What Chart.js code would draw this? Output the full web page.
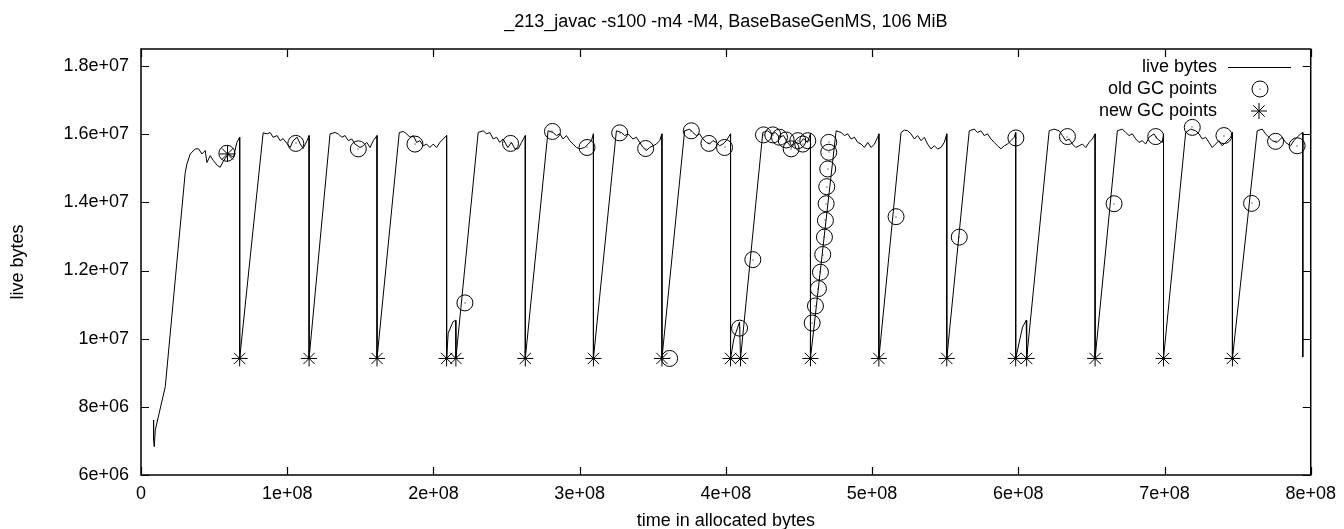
<!DOCTYPE html>
<html><head><meta charset="utf-8">
<script src="https://cdn.jsdelivr.net/npm/chart.js@4/dist/chart.umd.min.js"></script>
<style>html,body{margin:0;padding:0;background:#fff}canvas{display:block}</style>
</head><body>
<canvas id="c" width="1344" height="529"></canvas>
<script>
// All series values below are in units of 1e6 bytes
const UNIT = 1e6;

const liveX = [
  8.61, 8.61, 9.08, 9.77, 16.60, 30.26, 31.42, 33.68, 37.09, 39.34, 41.67, 43.92, 45.08, 47.34, 49.59, 52.32, 54.17, 56.42, 59.84, 63.25, 65.57, 67.49, 67.49,
  83.54, 86.27, 88.32, 90.37, 93.10, 95.15, 97.20, 99.93, 101.98, 104.03, 106.76, 108.81, 110.86, 113.59, 114.96, 114.96,
  129.30, 132.72, 134.97, 137.30, 139.55, 141.80, 144.13, 146.38, 149.80, 152.05, 154.37, 156.63, 158.88, 161.41, 161.41,
  176.64, 179.37, 181.69, 183.95, 186.20, 188.52, 190.77, 193.03, 195.35, 197.60, 199.86, 202.18, 204.43, 206.69, 209.02, 209.02,
  210.1, 213.3, 215.2, 215.37,
  230.60, 234.02, 236.34, 238.59, 240.85, 243.17, 245.42, 247.68, 250.89, 253.42, 255.67, 257.92, 260.25, 262.84, 262.84,
  278.42, 281.83, 284.15, 286.41, 288.66, 290.98, 293.24, 295.49, 297.81, 300.07, 303.48, 305.74, 308.06, 309.43, 309.43,
  325.14, 328.55, 330.81, 333.06, 336.47, 338.80, 341.05, 343.31, 345.63, 347.88, 350.14, 352.46, 354.71, 356.28, 356.28,
  371.79, 375.21, 377.46, 379.78, 382.04, 384.29, 386.61, 388.87, 391.12, 393.44, 395.70, 397.95, 400.28, 403.21, 403.21,
  405.5, 409.36, 410.04,
  425.27, 428.48, 431.21, 433.94, 436.68, 439.41, 442.14, 444.87, 447.60, 450.34, 453.07, 455.80, 457.86, 457.86,
  475.41, 478.83, 481.08, 483.33, 485.66, 487.91, 490.17, 492.49, 494.74, 497.00, 499.32, 501.57, 503.83, 504.65, 504.65,
  519.81, 522.06, 524.32, 526.64, 528.89, 531.15, 533.47, 535.72, 537.98, 540.30, 542.55, 544.81, 547.13, 549.38, 551.09, 551.09,
  566.46, 569.88, 572.13, 574.45, 576.71, 578.96, 581.28, 583.54, 585.79, 588.11, 590.37, 592.62, 594.94, 597.20, 598.22, 598.22,
  602.9, 605.4, 605.74,
  621.11, 624.53, 627.94, 630.20, 632.52, 634.77, 637.03, 639.35, 641.60, 643.86, 646.18, 648.43, 650.69, 652.53, 652.53,
  667.76, 671.18, 673.50, 675.76, 678.01, 680.33, 682.59, 684.84, 687.16, 689.42, 692.83, 695.08, 698.50, 699.32, 699.32,
  714.48, 717.90, 721.31, 723.56, 725.82, 728.14, 730.39, 732.65, 734.97, 737.22, 739.48, 741.80, 745.22, 746.45, 746.45,
  763.39, 766.80, 769.12, 771.38, 773.63, 777.05, 780.46, 782.78, 786.20, 788.45, 790.71, 793.03, 794.60, 794.60
];
const liveY = [
  7.61, 7.02, 6.83, 7.32, 8.59, 14.88, 15.13, 15.42, 15.57, 15.57, 15.42, 15.52, 15.17, 15.37, 15.22, 15.08, 15.03, 15.22, 15.42, 15.32, 15.76, 15.91, 9.42,
  16.04, 16.01, 16.05, 15.91, 15.96, 15.81, 15.87, 15.72, 15.61, 15.81, 15.91, 15.72, 15.58, 15.81, 15.96, 9.42,
  16.01, 16.05, 16.01, 15.91, 15.96, 15.81, 15.86, 15.71, 15.61, 15.66, 15.76, 15.61, 15.81, 15.96, 9.42,
  16.05, 16.08, 16.01, 15.91, 15.96, 15.76, 15.81, 15.66, 15.71, 15.61, 15.71, 15.61, 15.76, 15.86, 15.96, 9.42,
  10.16, 10.49, 10.54, 9.42,
  16.05, 16.10, 16.01, 16.05, 15.86, 15.91, 15.76, 15.86, 15.61, 15.76, 15.57, 15.57, 15.76, 15.96, 9.42,
  16.10, 16.05, 15.96, 16.01, 15.86, 15.96, 15.81, 15.71, 15.61, 15.57, 15.61, 15.71, 15.81, 16.01, 9.42,
  16.10, 16.05, 15.96, 16.01, 15.86, 15.91, 15.76, 15.61, 15.52, 15.61, 15.66, 15.71, 15.81, 16.01, 9.42,
  16.10, 16.15, 16.05, 15.96, 16.01, 15.86, 15.76, 15.71, 15.81, 15.76, 15.66, 15.71, 15.81, 16.01, 9.42,
  10.00, 10.49, 9.42,
  16.05, 16.10, 16.01, 16.05, 15.91, 15.96, 15.76, 15.61, 15.76, 15.72, 15.87, 15.76, 16.01, 9.42,
  16.10, 16.05, 15.96, 16.01, 15.86, 15.91, 15.76, 15.71, 15.61, 15.76, 15.61, 15.71, 15.91, 16.01, 9.42,
  16.05, 16.12, 16.10, 16.01, 15.86, 15.96, 15.81, 15.91, 15.71, 15.57, 15.66, 15.57, 15.61, 15.76, 16.01, 9.42,
  16.10, 16.15, 16.05, 16.10, 15.96, 16.01, 15.86, 15.76, 15.66, 15.57, 15.66, 15.71, 15.81, 15.91, 16.05, 9.42,
  10.34, 10.54, 9.42,
  16.10, 16.15, 16.10, 15.96, 15.81, 15.86, 15.71, 15.61, 15.66, 15.71, 15.61, 15.76, 15.86, 16.01, 9.42,
  16.10, 16.15, 16.05, 15.96, 16.01, 15.86, 15.76, 15.81, 15.71, 15.91, 16.01, 15.86, 15.76, 16.01, 9.42,
  16.05, 16.15, 16.10, 16.01, 15.86, 15.91, 15.76, 15.61, 15.71, 15.81, 15.66, 15.76, 15.91, 16.05, 9.42,
  16.10, 16.15, 16.01, 15.91, 15.81, 15.76, 15.91, 15.76, 15.66, 15.81, 15.91, 16.01, 16.05, 9.46
];

const oldGcX = [58.74, 105.87, 148.63, 187.36, 221.52, 252.73, 281.42, 305.05, 327.39, 345.15, 361.54,
  376.37, 388.39, 399.11, 409.36, 418.44, 425.75, 432.10, 436.68, 441.26, 444.67, 449.18, 452.60, 456.01,
  459.02, 461.27, 463.32, 464.69, 466.26, 467.42, 468.10, 468.58, 468.99, 469.67, 470.36, 470.36,
  516.39, 559.63, 598.36, 633.61, 665.51, 693.99, 718.99, 740.64, 759.56, 775.96, 790.71];
const oldGcY = [15.44, 15.73, 15.57, 15.71, 11.05, 15.73, 16.08, 15.61, 16.04, 15.58, 9.42,
  16.10, 15.73, 15.61, 10.31, 12.32, 15.98, 15.98, 15.91, 15.83, 15.57, 15.81, 15.71, 15.81,
  10.46, 10.96, 11.47, 11.95, 12.47, 12.98, 13.47, 13.96, 14.46, 14.98, 15.47, 15.76,
  13.58, 12.98, 15.89, 15.93, 13.96, 15.93, 16.20, 15.96, 13.97, 15.79, 15.66];

const newGcX = [59.15, 67.49, 114.96, 161.41, 209.02, 215.37, 262.84, 309.43, 356.28, 403.21, 410.04,
  457.86, 504.65, 551.09, 598.22, 605.74, 652.53, 699.32, 746.45];
const newGcY = [15.42, 9.42, 9.42, 9.42, 9.42, 9.42, 9.42, 9.42, 9.42, 9.42, 9.42,
  9.42, 9.42, 9.42, 9.42, 9.42, 9.42, 9.42, 9.42];

const xTicks = [0, 1e8, 2e8, 3e8, 4e8, 5e8, 6e8, 7e8, 8e8];
const yTicks = [6e6, 8e6, 1e7, 1.2e7, 1.4e7, 1.6e7, 1.8e7];

const TITLE = '_213_javac -s100 -m4 -M4, BaseBaseGenMS, 106 MiB';
const X_LABEL = 'time in allocated bytes';
const Y_LABEL = 'live bytes';
const SERIES_NAMES = ['live bytes', 'old GC points', 'new GC points'];

const FONT_FAMILY = '"Liberation Sans", Arial, Helvetica, sans-serif';
const FONT_SIZE = 18;
const FONT = FONT_SIZE + 'px ' + FONT_FAMILY;

function gfmt(v) {
  if (v === 0) return '0';
  const e = Math.floor(Math.log10(Math.abs(v)) + 1e-9);
  const m = v / Math.pow(10, e);
  const ms = parseFloat(m.toPrecision(6)).toString();
  return ms + 'e' + (e < 0 ? '-' : '+') + String(Math.abs(e)).padStart(2, '0');
}

function pts(xs, ys) { return xs.map((x, i) => ({x: x * UNIT, y: ys[i] * UNIT})); }

// small centre dot of the gnuplot circle marker, placed at the library's element positions
const circleDotPlugin = {
  id: 'circleDot',
  afterDatasetsDraw(chart) {
    const meta = chart.getDatasetMeta(1);
    const ctx = chart.ctx;
    ctx.save();
    ctx.fillStyle = '#000';
    meta.data.forEach(el => { ctx.fillRect(Math.round(el.x) - 0.5, Math.round(el.y) - 0.5, 1, 1); });
    ctx.restore();
  }
};

const framePlugin = {
  id: 'frame',
  afterDraw(chart) {
    const ctx = chart.ctx;
    const a = chart.chartArea;
    const xs = chart.scales.x, ys = chart.scales.y;
    ctx.save();
    ctx.strokeStyle = '#000';
    ctx.lineWidth = 1.2;
    const TL = 8;
    ctx.beginPath();
    xTicks.forEach(v => {
      const px = Math.round(xs.getPixelForValue(v)) + 0.5;
      ctx.moveTo(px, a.bottom); ctx.lineTo(px, a.bottom - TL);
      ctx.moveTo(px, a.top); ctx.lineTo(px, a.top + TL);
    });
    yTicks.forEach(v => {
      const py = Math.round(ys.getPixelForValue(v)) + 0.5;
      ctx.moveTo(a.left, py); ctx.lineTo(a.left + TL, py);
      ctx.moveTo(a.right, py); ctx.lineTo(a.right - TL, py);
    });
    ctx.stroke();
    ctx.lineWidth = 1.5;
    ctx.strokeRect(a.left, a.top, a.right - a.left, a.bottom - a.top);
    ctx.fillStyle = '#000';
    ctx.font = FONT;
    ctx.textAlign = 'center';
    ctx.textBaseline = 'middle';
    const cx = (a.left + a.right) / 2;
    ctx.fillText(TITLE, cx, 22);
    ctx.fillText(X_LABEL, cx, 521);
    ctx.save();
    ctx.translate(18, (a.top + a.bottom) / 2);
    ctx.rotate(-Math.PI / 2);
    ctx.fillText(Y_LABEL, 0, 0);
    ctx.restore();
    // legend
    const rows = [67, 89, 111];
    ctx.textAlign = 'right';
    SERIES_NAMES.forEach((n, i) => ctx.fillText(n, 1217, rows[i]));
    ctx.lineWidth = 1;
    ctx.beginPath();
    ctx.moveTo(1228, rows[0] + 0.5); ctx.lineTo(1291, rows[0] + 0.5);
    ctx.stroke();
    ctx.beginPath();
    ctx.arc(1260, rows[1], 8, 0, Math.PI * 2);
    ctx.stroke();
    ctx.fillRect(1259.5, rows[1] - 0.5, 1, 1);
    const r = 8, sx = 1259, sy = rows[2];
    ctx.beginPath();
    ctx.moveTo(sx - r, sy); ctx.lineTo(sx + r, sy);
    ctx.moveTo(sx, sy - r); ctx.lineTo(sx, sy + r);
    const d = r * Math.SQRT1_2;
    ctx.moveTo(sx - d, sy - d); ctx.lineTo(sx + d, sy + d);
    ctx.moveTo(sx - d, sy + d); ctx.lineTo(sx + d, sy - d);
    ctx.stroke();
    ctx.restore();
  }
};

new Chart(document.getElementById('c'), {
  type: 'scatter',
  data: {
    datasets: [
      {label: SERIES_NAMES[0], data: pts(liveX, liveY), showLine: true, borderColor: '#000', borderWidth: 1,
       pointRadius: 0, pointHoverRadius: 0, tension: 0, order: 3},
      {label: SERIES_NAMES[1], data: pts(oldGcX, oldGcY), showLine: false, pointStyle: 'circle',
       pointRadius: 8, borderColor: '#000', borderWidth: 1, backgroundColor: 'rgba(0,0,0,0)', order: 2},
      {label: SERIES_NAMES[2], data: pts(newGcX, newGcY), showLine: false, pointStyle: 'star',
       pointRadius: 8, borderColor: '#000', borderWidth: 1, backgroundColor: 'rgba(0,0,0,0)', order: 1}
    ]
  },
  options: {
    responsive: false,
    animation: false,
    devicePixelRatio: 1,
    layout: {padding: {top: 49, right: 32, left: 0, bottom: 0}},
    plugins: {legend: {display: false}, title: {display: false}, tooltip: {enabled: false}},
    scales: {
      x: {
        type: 'linear', min: 0, max: 8e8,
        afterBuildTicks: s => { s.ticks = xTicks.map(v => ({value: v})); },
        afterFit: s => { s.height = 54; },
        ticks: {callback: v => gfmt(v), color: '#000', font: {family: FONT_FAMILY, size: FONT_SIZE}, padding: 8, maxRotation: 0, autoSkip: false},
        grid: {display: false, drawTicks: false},
        border: {display: false}
      },
      y: {
        type: 'linear', min: 6e6, max: 1.85e7,
        afterBuildTicks: s => { s.ticks = yTicks.map(v => ({value: v})); },
        afterFit: s => { s.width = 141; },
        ticks: {callback: v => gfmt(v), color: '#000', font: {family: FONT_FAMILY, size: FONT_SIZE}, padding: 12, autoSkip: false},
        grid: {display: false, drawTicks: false},
        border: {display: false}
      }
    }
  },
  plugins: [circleDotPlugin, framePlugin]
});
</script>
</body></html>
